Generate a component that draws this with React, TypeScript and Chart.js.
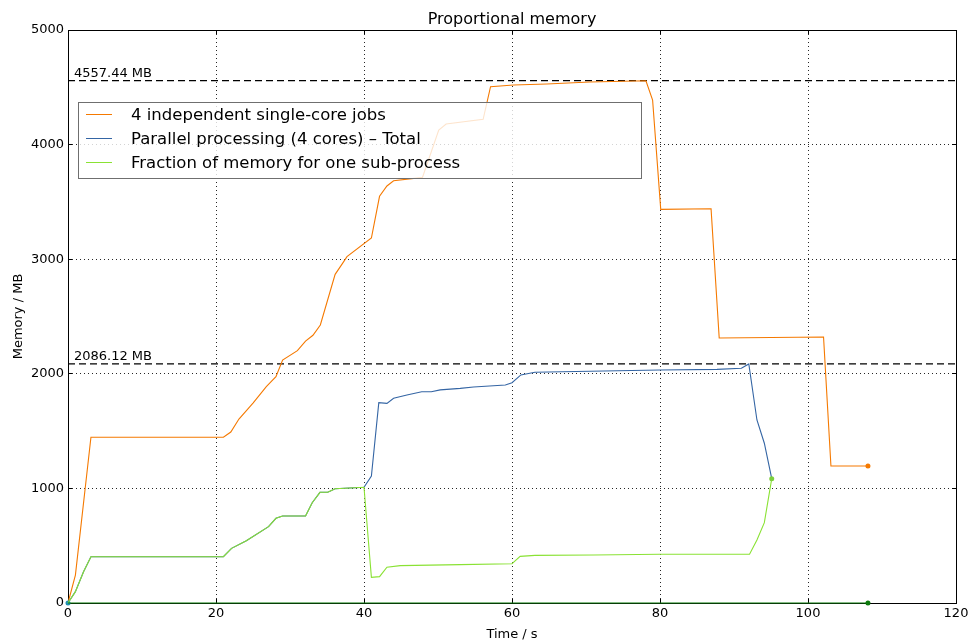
import React, { useEffect, useRef } from "react";
import { Chart, registerables } from "chart.js";

Chart.register(...registerables);

// ---- data ----
const titleText = "Proportional memory";
const xLabel = "Time / s";
const yLabel = "Memory / MB";

const singleX = [0, 1.0, 3.1, 21.0, 22.0, 23.1, 25.0, 26.8, 28.1, 29.0, 31.0, 32.1, 33.1, 34.1, 36.1, 37.1, 37.7, 41.0, 42.1, 43.1, 44.0, 47.9, 50.1, 51.1, 56.1, 57.1, 60.2, 64.7, 70.5, 78.1, 79.0, 80.1, 86.9, 88.0, 102.1, 103.1, 108.1];
const singleY = [0, 244, 1446, 1446, 1492, 1605, 1745, 1888, 1975, 2120, 2202, 2286, 2336, 2426, 2868, 2964, 3022, 3185, 3549, 3639, 3685, 3714, 4127, 4180, 4221, 4505, 4520, 4529, 4546, 4557.44, 4389, 3435, 3440, 2312, 2321, 1195, 1195];

const totalX = [0, 1.0, 2.1, 3.1, 21.0, 22.1, 24.1, 27.1, 28.1, 29.0, 32.1, 33.0, 34.05, 35.1, 36.1, 40.0, 41.0, 42.0, 43.1, 44.0, 45.8, 47.8, 49.1, 50.3, 53.0, 54.8, 59.1, 60.0, 61.2, 63.1, 70.5, 80.0, 87.7, 91.0, 92.0, 93.1, 94.1, 95.1];
const totalY = [0, 99, 273, 404, 404, 477, 544, 666, 739, 759, 759, 875, 966, 966, 997, 1010, 1108, 1748, 1742, 1786, 1815, 1844, 1844, 1860, 1873, 1885, 1902, 1922, 1990, 2013, 2022, 2033, 2039, 2048, 2086.12, 1597, 1394, 1085];

const fractionX = [0, 1.0, 2.1, 3.1, 21.0, 22.1, 24.1, 27.1, 28.1, 29.0, 32.1, 33.0, 34.05, 35.1, 36.1, 40.0, 41.0, 42.1, 43.1, 44.9, 53.0, 60.0, 61.1, 63.1, 71.0, 80.0, 92.1, 93.1, 94.1, 95.1];
const fractionY = [0, 99, 273, 404, 404, 477, 544, 666, 739, 759, 759, 875, 966, 966, 997, 1010, 224, 230, 312, 326, 335, 343, 407, 416, 419, 425, 425, 550, 701, 1085];

const baseX = [0, 108.1];
const baseY = [0, 0];

const peakValues = [4557.44, 2086.12];
const peakLabels = ["4557.44 MB", "2086.12 MB"];

const seriesLabels = [
  "4 independent single-core jobs",
  "Parallel processing (4 cores) \u2013 Total",
  "Fraction of memory for one sub-process",
];

const xTicks = [0, 20, 40, 60, 80, 100, 120];
const yTicks = [0, 1000, 2000, 3000, 4000, 5000];

const ORANGE = "#f57900";
const BLUE = "#3465a4";
const GREEN = "#8ae234";
const DARKGREEN = "#0b7a0b";
const FONT = "'DejaVu Sans', 'Liberation Sans', sans-serif";

const pts = (xs: number[], ys: number[]) => xs.map((x, i) => ({ x, y: ys[i] }));
const lastOnly = (r: number) => (ctx: any) =>
  ctx.dataIndex === ctx.dataset.data.length - 1 ? r : 0;

const decorPlugin = {
  id: "decor",
  beforeDatasetsDraw(chart: any) {
    const { ctx, chartArea: a, scales } = chart;
    const xs = scales.x;
    const ys = scales.y;
    ctx.save();
    ctx.strokeStyle = "#000";
    ctx.lineWidth = 1;
    ctx.setLineDash([]);
    ctx.strokeRect(a.left + 0.5, a.top + 0.5, a.right - a.left, a.bottom - a.top);
    ctx.beginPath();
    xTicks.forEach((t) => {
      const px = Math.floor(xs.getPixelForValue(t)) + 0.5;
      ctx.moveTo(px, a.bottom);
      ctx.lineTo(px, a.bottom - 4);
      ctx.moveTo(px, a.top);
      ctx.lineTo(px, a.top + 4);
    });
    yTicks.forEach((t) => {
      const py = Math.floor(ys.getPixelForValue(t)) + 0.5;
      ctx.moveTo(a.left, py);
      ctx.lineTo(a.left + 4, py);
      ctx.moveTo(a.right, py);
      ctx.lineTo(a.right - 4, py);
    });
    ctx.stroke();
    ctx.restore();
  },
  afterDatasetsDraw(chart: any) {
    const { ctx, chartArea: a, scales } = chart;
    const xs = scales.x;
    const ys = scales.y;
    ctx.save();
    // peak labels
    ctx.fillStyle = "#000";
    ctx.font = `13px ${FONT}`;
    ctx.textAlign = "left";
    ctx.textBaseline = "alphabetic";
    peakValues.forEach((v, i) => {
      ctx.fillText(peakLabels[i], xs.getPixelForValue(0.8), ys.getPixelForValue(v) - 4);
    });
    // legend
    const lx = 78.5, ly = 102.5, lw = 563, lh = 76;
    ctx.fillStyle = "rgba(255,255,255,0.8)";
    ctx.fillRect(lx, ly, lw, lh);
    ctx.strokeStyle = "#6f6f6f";
    ctx.lineWidth = 1;
    ctx.strokeRect(lx, ly, lw, lh);
    const ds = chart.data.datasets;
    ctx.font = `16.5px ${FONT}`;
    ctx.textBaseline = "middle";
    for (let i = 0; i < 3; i++) {
      const y = 114.5 + i * 24;
      ctx.strokeStyle = ds[i].borderColor;
      ctx.beginPath();
      ctx.moveTo(86, y);
      ctx.lineTo(112, y);
      ctx.stroke();
      ctx.fillStyle = "#000";
      ctx.fillText(ds[i].label, 131, y + 1);
    }
    // title & axis labels
    ctx.fillStyle = "#000";
    ctx.textAlign = "center";
    ctx.textBaseline = "alphabetic";
    ctx.font = `16px ${FONT}`;
    ctx.fillText(titleText, (a.left + a.right) / 2, 24);
    ctx.font = `13px ${FONT}`;
    ctx.fillText(xLabel, (a.left + a.right) / 2, 638);
    ctx.translate(22, (a.top + a.bottom) / 2);
    ctx.rotate(-Math.PI / 2);
    ctx.fillText(yLabel, 0, 0);
    ctx.restore();
  },
};

export default function App() {
  const ref = useRef<HTMLCanvasElement | null>(null);
  useEffect(() => {
    document.body.style.margin = "0";
    const canvas = ref.current;
    if (!canvas) return;
    const chart = new Chart(canvas, {
      type: "line",
      data: {
        datasets: [
          {
            label: seriesLabels[0],
            data: pts(singleX, singleY),
            borderColor: ORANGE,
            backgroundColor: ORANGE,
            borderWidth: 1.1,
            pointRadius: lastOnly(2.5),
            pointBorderWidth: 0,
            order: 3,
            clip: 6,
          },
          {
            label: seriesLabels[1],
            data: pts(totalX, totalY),
            borderColor: BLUE,
            backgroundColor: "#1f8fb0",
            borderWidth: 1.1,
            pointRadius: (c: any) => (c.dataIndex === 0 ? 2.5 : 0),
            pointBorderWidth: 0,
            order: 2,
            clip: 6,
          },
          {
            label: seriesLabels[2],
            data: pts(fractionX, fractionY),
            borderColor: GREEN,
            backgroundColor: "#7ccf3c",
            borderWidth: 1.1,
            pointRadius: lastOnly(2.5),
            pointBorderWidth: 0,
            order: 1,
            clip: 6,
          },
          {
            label: "base",
            data: pts(baseX, baseY),
            borderColor: DARKGREEN,
            backgroundColor: DARKGREEN,
            borderWidth: 1,
            pointRadius: lastOnly(2.5),
            pointBorderWidth: 0,
            order: 0,
            clip: 6,
          },
          {
            label: "peak1",
            data: [
              { x: 0, y: peakValues[0] },
              { x: 120, y: peakValues[0] },
            ],
            borderColor: "#000",
            borderWidth: 1.3,
            borderDash: [7, 4],
            pointRadius: 0,
            order: 5,
          },
          {
            label: "peak2",
            data: [
              { x: 0, y: peakValues[1] },
              { x: 120, y: peakValues[1] },
            ],
            borderColor: "#000",
            borderWidth: 1.3,
            borderDash: [7, 4],
            pointRadius: 0,
            order: 5,
          },
        ],
      },
      options: {
        animation: false,
        responsive: false,
        devicePixelRatio: 1,
        layout: { padding: { left: 8, right: 18, top: 30, bottom: 0 }, autoPadding: false },
        plugins: { legend: { display: false }, title: { display: false }, tooltip: { enabled: false } },
        elements: { line: { tension: 0 } },
        scales: {
          x: {
            type: "linear",
            min: 0,
            max: 120,
            afterFit: (s: any) => {
              s.height = 39;
            },
            afterBuildTicks: (s: any) => {
              s.ticks = xTicks.map((v) => ({ value: v }));
            },
            ticks: {
              font: { family: FONT, size: 13 },
              color: "#000",
              padding: 3,
              maxRotation: 0,
              callback: (v: any) => String(v),
            },
            grid: { color: "rgba(0,0,0,0.85)", lineWidth: 1, drawTicks: false },
            border: { display: false, dash: [1, 3] },
          },
          y: {
            type: "linear",
            min: 0,
            max: 5000,
            afterFit: (s: any) => {
              s.width = 60;
            },
            afterBuildTicks: (s: any) => {
              s.ticks = yTicks.map((v) => ({ value: v }));
            },
            ticks: {
              font: { family: FONT, size: 13 },
              color: "#000",
              padding: 4,
              callback: (v: any) => String(v),
            },
            grid: { color: "rgba(0,0,0,0.85)", lineWidth: 1, drawTicks: false },
            border: { display: false, dash: [1, 3] },
          },
        },
      },
      plugins: [decorPlugin],
    } as any);
    return () => chart.destroy();
  }, []);
  return (
    <div style={{ width: 974, height: 642, position: "relative" }}>
      <canvas ref={ref} width={974} height={642} style={{ width: 974, height: 642 }} />
    </div>
  );
}
